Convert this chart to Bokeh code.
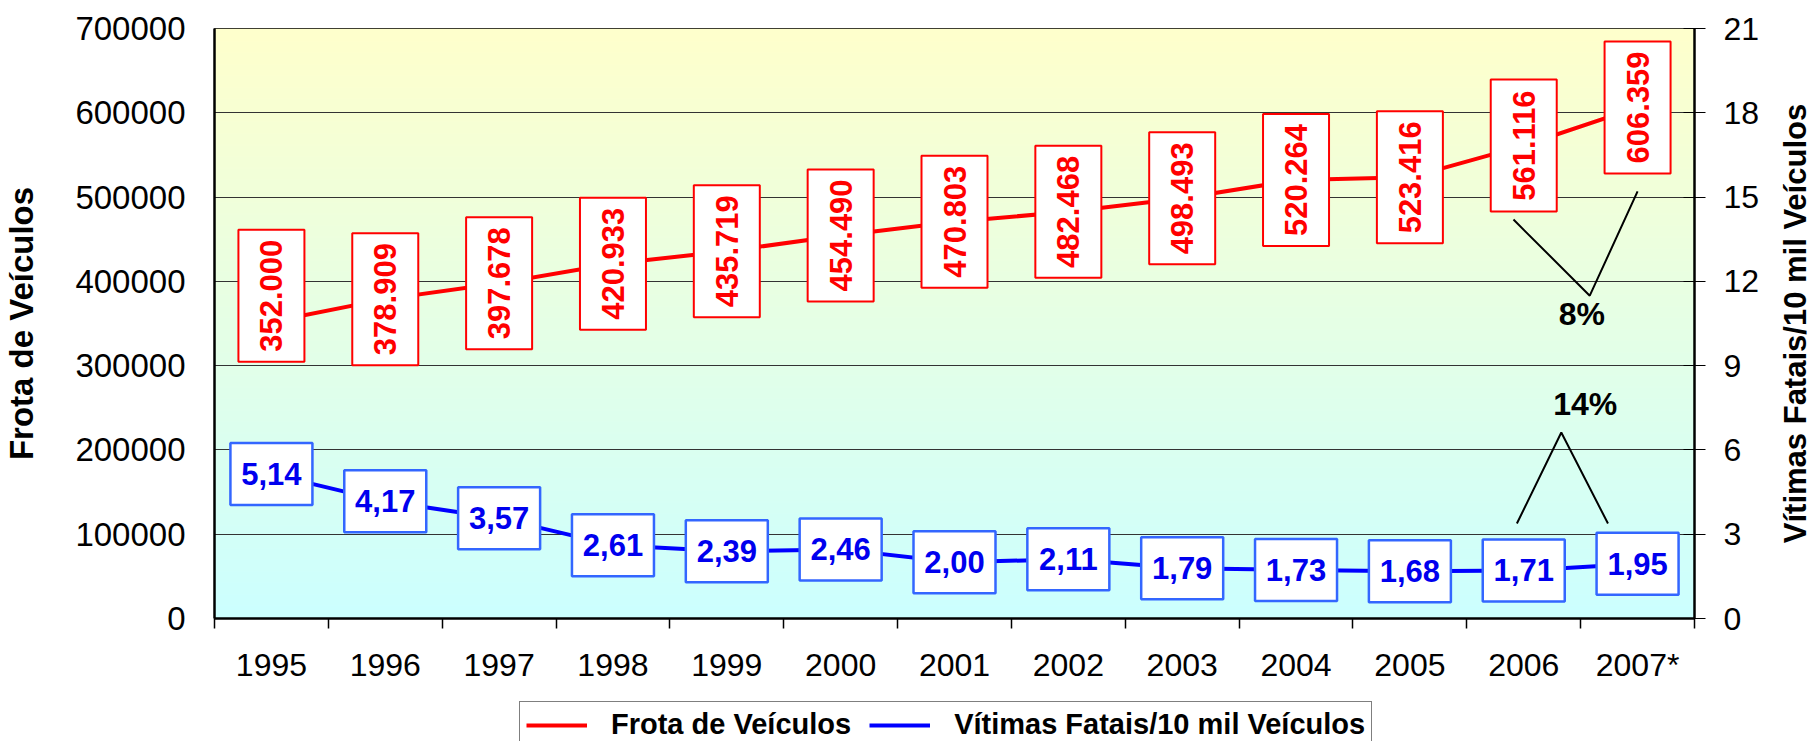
import math
import numpy as np
from bokeh.plotting import figure
from bokeh.layouts import column, row
from bokeh.models import (Range1d, LinearAxis, FixedTicker, Legend, LegendItem,
                          ColumnDataSource)
from bokeh.core.properties import value
from bokeh.embed import file_html
from bokeh.resources import INLINE

# ---------------- data ----------------
years = ["1995", "1996", "1997", "1998", "1999", "2000", "2001",
         "2002", "2003", "2004", "2005", "2006", "2007*"]
frota = [352000, 378909, 397678, 420933, 435719, 454490, 470803,
         482468, 498493, 520264, 523416, 561116, 606359]
vitimas = [5.14, 4.17, 3.57, 2.61, 2.39, 2.46, 2.00,
           2.11, 1.79, 1.73, 1.68, 1.71, 1.95]
left_ticks = [0, 100000, 200000, 300000, 400000, 500000, 600000, 700000]
right_ticks = [0, 3, 6, 9, 12, 15, 18, 21]
pct_frota = "8%"
pct_vitimas = "14%"
series_names = ["Frota de Veículos", "Vítimas Fatais/10 mil Veículos"]

FONT = "Liberation Sans"
RED = "#FF0000"
BLUE = "#0000FF"
FRAME_H = 590  # plot-area height in pixels

xs = list(range(1, len(years) + 1))
frota_txt = [f"{v:,}".replace(",", ".") for v in frota]
vit_txt = [f"{v:.2f}".replace(".", ",") for v in vitimas]

# the first red label box sits a little above its point in the original
px = (left_ticks[-1] - left_ticks[0]) / FRAME_H
frota_lbl_y = [v + (26 * px if i == 0 else 0) for i, v in enumerate(frota)]

src = ColumnDataSource(dict(x=xs, frota=frota, vit=vitimas, fly=frota_lbl_y,
                            ftxt=frota_txt, vtxt=vit_txt))

p = figure(width=1769, height=698,
           x_range=Range1d(0.5, len(years) + 0.5),
           y_range=Range1d(left_ticks[0], left_ticks[-1]),
           output_backend="svg", toolbar_location=None,
           min_border_left=212, min_border_right=75,
           min_border_top=28, min_border_bottom=80)
p.extra_y_ranges = {"right": Range1d(right_ticks[0], right_ticks[-1])}
p.background_fill_color = "white"
p.border_fill_color = "white"
p.outline_line_color = "black"
p.outline_line_width = 1

# background gradient (yellow top -> cyan bottom)
N = 256
t = np.linspace(0, 1, N)[:, None]
img = np.empty((N, 1), dtype=np.uint32)
view = img.view(dtype=np.uint8).reshape((N, 1, 4))
view[:, :, 0] = (204 + 51 * t).astype(np.uint8)
view[:, :, 1] = 255
view[:, :, 2] = (255 - 51 * t).astype(np.uint8)
view[:, :, 3] = 255
p.image_rgba(image=[img], x=0.5, y=left_ticks[0], dw=len(years),
             dh=left_ticks[-1] - left_ticks[0], level="image")

# left axis
lt = FixedTicker(ticks=left_ticks)
p.yaxis.ticker = lt
p.ygrid.ticker = lt
p.yaxis.major_label_overrides = {v: str(v) for v in left_ticks}
p.yaxis.major_label_text_font = FONT
p.yaxis.major_label_text_font_size = "33px"
p.yaxis.major_label_text_color = "black"
p.yaxis.major_tick_out = 0
p.yaxis.major_tick_in = 0
p.yaxis.minor_tick_out = 0
p.yaxis.minor_tick_in = 0
p.yaxis.major_label_standoff = 29
p.yaxis.axis_line_width = 2.5
p.yaxis.axis_line_color = "black"
p.yaxis.axis_label = series_names[0]
p.yaxis.axis_label_text_font = FONT
p.yaxis.axis_label_text_font_style = "bold"
p.yaxis.axis_label_text_font_size = "33px"
p.yaxis.axis_label_text_color = "black"
p.yaxis.axis_label_standoff = 32

p.ygrid.grid_line_color = "#333333"
p.ygrid.grid_line_width = 1
p.xgrid.grid_line_color = None

# bottom axis: labels at category centres, ticks at category boundaries
xt = FixedTicker(ticks=xs, minor_ticks=[i + 0.5 for i in range(0, len(years) + 1)])
p.xaxis.ticker = xt
p.xaxis.major_label_overrides = {i: y for i, y in zip(xs, years)}
p.xaxis.major_label_text_font = FONT
p.xaxis.major_label_text_font_size = "32px"
p.xaxis.major_label_text_color = "black"
p.xaxis.major_tick_out = 0
p.xaxis.major_tick_in = 0
p.xaxis.minor_tick_out = 10
p.xaxis.minor_tick_in = 0
p.xaxis.minor_tick_line_color = "black"
p.xaxis.minor_tick_line_width = 1.5
p.xaxis.axis_line_width = 2.5
p.xaxis.axis_line_color = "black"
p.xaxis.major_label_standoff = 18

# right axis
ra = LinearAxis(y_range_name="right", ticker=FixedTicker(ticks=right_ticks))
ra.major_label_text_font = FONT
ra.major_label_text_font_size = "32px"
ra.major_label_text_color = "black"
ra.major_tick_out = 11
ra.major_tick_in = 11
ra.major_tick_line_color = "black"
ra.minor_tick_out = 0
ra.minor_tick_in = 0
ra.major_label_standoff = 18
ra.axis_line_width = 2.5
ra.axis_line_color = "black"
p.add_layout(ra, "right")

# series lines
p.line("x", "frota", source=src, line_color=RED, line_width=4)
p.line("x", "vit", source=src, y_range_name="right", line_color=BLUE, line_width=4)

# label boxes
p.rect("x", "fly", source=src, width=66, height=132, width_units="screen",
       height_units="screen", fill_color="white", line_color=RED, line_width=2)
p.text("x", "fly", text="ftxt", source=src, angle=math.pi / 2,
       text_align="center", text_baseline="middle", text_font=value(FONT),
       text_font_style="bold", text_font_size="31px", text_color=RED)

p.rect("x", "vit", source=src, y_range_name="right", width=82, height=62,
       width_units="screen", height_units="screen", fill_color="white",
       line_color="#3366FF", line_width=2.5)
p.text("x", "vit", text="vtxt", source=src, y_range_name="right",
       text_align="center", text_baseline="middle", text_font=value(FONT),
       text_font_style="bold", text_font_size="31px", text_color="#0000EE")

# percentage annotations (between the last two categories)
i06, i07 = xs[-2], xs[-1]
p.line([i06 - 0.09, i06 + 0.58, i07], [14.2, 11.49, 15.2], y_range_name="right",
       line_color="black", line_width=2)
p.text([i06 + 0.51], [10.85], text=[pct_frota], y_range_name="right",
       text_align="center", text_baseline="middle", text_font=value(FONT),
       text_font_style="bold", text_font_size="32px", text_color="black")
p.line([i06 - 0.06, i06 + 0.33, i06 + 0.74], [3.38, 6.62, 3.38], y_range_name="right",
       line_color="black", line_width=2)
p.text([i06 + 0.54], [7.65], text=[pct_vitimas], y_range_name="right",
       text_align="center", text_baseline="middle", text_font=value(FONT),
       text_font_style="bold", text_font_size="32px", text_color="black")

# right-hand axis title strip
tf = figure(width=44, height=698, x_range=Range1d(0, 44),
            y_range=Range1d(right_ticks[0], right_ticks[-1]),
            x_axis_location=None, y_axis_location=None, toolbar_location=None,
            output_backend="svg", min_border=0, min_border_left=0,
            min_border_right=0, min_border_top=0, min_border_bottom=0)
tf.outline_line_color = None
tf.grid.grid_line_color = None
tf.background_fill_color = "white"
tf.border_fill_color = "white"
tf.text([26], [(right_ticks[0] + right_ticks[-1]) / 2], text=[series_names[1]],
        angle=math.pi / 2, text_align="center", text_baseline="middle",
        text_font=value(FONT), text_font_style="bold", text_font_size="31px",
        text_color="black")

# legend strip below the chart
lf = figure(width=1813, height=43, x_range=Range1d(0, 1), y_range=Range1d(0, 1),
            x_axis_location=None, y_axis_location=None, toolbar_location=None,
            output_backend="svg", min_border=0, min_border_left=0,
            min_border_right=0, min_border_top=0, min_border_bottom=0)
lf.outline_line_color = None
lf.grid.grid_line_color = None
lf.background_fill_color = "white"
lf.border_fill_color = "white"
r1 = lf.line(x=[-3, -2], y=[-3, -2], line_color=RED, line_width=4)
r2 = lf.line(x=[-3, -2], y=[-3, -2], line_color=BLUE, line_width=4)
legend = Legend(items=[LegendItem(label=series_names[0], renderers=[r1]),
                       LegendItem(label=series_names[1], renderers=[r2])],
                orientation="horizontal", location=(519, -7),
                border_line_color="black", border_line_width=1,
                background_fill_color="white", background_fill_alpha=1,
                label_text_font=FONT, label_text_font_style="bold",
                label_text_font_size="29px", label_text_color="black",
                glyph_width=61, glyph_height=28, label_standoff=24,
                spacing=18, padding=6, margin=0)
lf.add_layout(legend)

open("out.html", "w").write(file_html(column(row(p, tf, spacing=0), lf, spacing=0), INLINE))
